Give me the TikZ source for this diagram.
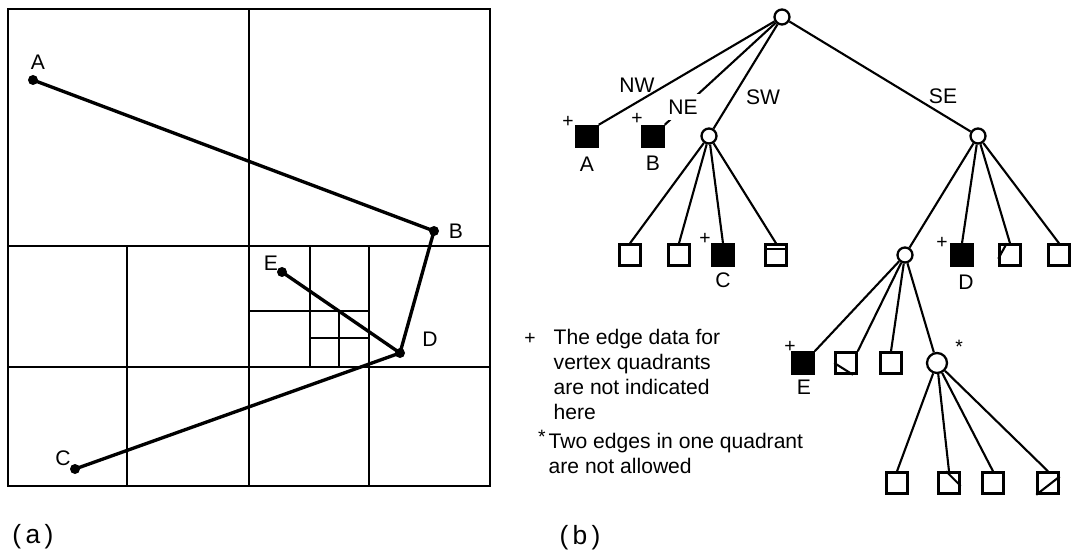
\documentclass[tikz,border=0pt]{standalone}
\usepackage{fontspec}
\setmainfont{Liberation Sans}
\usetikzlibrary{positioning}

\begin{document}
\begin{tikzpicture}[thick, font=\fontsize{12}{14.2}\selectfont]
	\useasboundingbox (0,0) rectangle (21.42,11.08);

	\tikzstyle{grid}=[line width=1.2pt]
	\tikzstyle{seg}=[line width=1.9pt]
	\tikzstyle{edge}=[line width=1.2pt]
	\tikzstyle{pt}=[circle, fill=black, inner sep=0pt, minimum size=0.2cm]
	\tikzstyle{inode}=[circle, draw, fill=white, line width=1.3pt, inner sep=0pt, minimum size=0.3cm]
	\tikzstyle{leaf}=[rectangle, draw, fill=white, line width=1.4pt, inner sep=0pt, minimum size=0.42cm]
	\tikzstyle{vleaf}=[leaf, fill=black]
	\tikzstyle{flag}=[font=\fontsize{11}{12}\selectfont, inner sep=0pt]

	% (a) the subdivided square
	\draw[grid] (0.16,1.36) rectangle (9.8,10.9);
	\draw[grid] (4.98,1.36) -- (4.98,10.9);
	\draw[grid] (0.16,6.16) -- (9.8,6.16);
	\draw[grid] (0.16,3.74) -- (9.8,3.74);
	\draw[grid] (2.54,1.36) -- (2.54,6.16);
	\draw[grid] (7.38,1.36) -- (7.38,6.16);
	\draw[grid] (6.2,3.74) -- (6.2,6.16);
	\draw[grid] (4.98,4.86) -- (7.38,4.86);
	\draw[grid] (6.78,3.74) -- (6.78,4.86);
	\draw[grid] (6.2,4.32) -- (7.38,4.32);

	% vertices and edges
	\node[pt] (pA) at (0.66,9.48) {};
	\node[pt] (pB) at (8.68,6.46) {};
	\node[pt] (pE) at (5.64,5.64) {};
	\node[pt] (pD) at (8.0,4.02) {};
	\node[pt] (pC) at (1.5,1.70) {};
	\draw[seg] (pA.center) -- (pB.center) -- (pD.center) -- (pC.center);
	\draw[seg] (pE.center) -- (pD.center);
	\node (lA) at (0.76,9.84) {A};
	\node (lB) at (9.12,6.46) {B};
	\node (lE) at (5.42,5.82) {E};
	\node (lD) at (8.6,4.3) {D};
	\node (lC) at (1.26,1.92) {C};

	\node[font=\fontsize{15}{17}\selectfont] (capa) at (0.66,0.35) {(\,a\,)};

	% (b) the tree
	\node[inode] (root) at (15.64,10.74) {};
	\node[vleaf] (nA) at (11.74,8.35) {};
	\node[vleaf] (nB) at (13.06,8.35) {};
	\node[inode] (sw) at (14.18,8.36) {};
	\node[inode] (se) at (19.56,8.36) {};

	\node[leaf] (sw1) at (12.6,5.98) {};
	\node[leaf] (sw2) at (13.58,5.98) {};
	\node[vleaf] (sw3) at (14.46,5.98) {};
	\node[leaf] (sw4) at (15.52,5.98) {};

	\node[inode] (se1) at (18.1,5.98) {};
	\node[vleaf] (se2) at (19.24,5.98) {};
	\node[leaf] (se3) at (20.2,5.98) {};
	\node[leaf] (se4) at (21.18,5.98) {};

	\node[vleaf] (t1) at (16.06,3.82) {};
	\node[leaf] (t2) at (16.92,3.82) {};
	\node[leaf] (t3) at (17.82,3.82) {};
	\node[inode, minimum size=0.4cm] (t4) at (18.74,3.82) {};

	\node[leaf] (u1) at (17.94,1.42) {};
	\node[leaf] (u2) at (18.98,1.42) {};
	\node[leaf] (u3) at (19.86,1.42) {};
	\node[leaf] (u4) at (20.96,1.42) {};

	% links
	\draw[edge] (root) -- (nA.north east);
	\draw[edge] (root) -- (nB.north east);
	\draw[edge] (root) -- (sw);
	\draw[edge] (root) -- (se);
	\foreach \c in {sw1,sw2,sw3,sw4}
		\draw[edge] (sw) -- (\c.north);
	\draw[edge] (se) -- (se1);
	\foreach \c in {se2,se3,se4}
		\draw[edge] (se) -- (\c.north);
	\draw[edge] (se1) -- (t1.north east);
	\draw[edge] (se1) -- (t2.north east);
	\draw[edge] (se1) -- (t3.north);
	\draw[edge] (se1) -- (t4);
	\foreach \c in {u1,u2,u3,u4}
		\draw[edge] (t4) -- (\c.north);

	% edge pieces inside the quadrants
	\draw[edge] ([yshift=-0.11cm]sw4.north west) -- ([yshift=-0.11cm]sw4.north east);
	\draw[edge] ([yshift=0.16cm]se3.south west) -- ([xshift=0.17cm]se3.north west);
	\draw[edge] (t2.west) -- ([xshift=0.14cm]t2.south);
	\draw[edge] ([xshift=-0.06cm]u2.north) -- ([yshift=-0.06cm]u2.east);
	\draw[edge] (u4.south west) -- ([yshift=0.13cm]u4.east);

	% quadrant names
	\node (lnw) at (12.74,9.38) {NW};
	\node[fill=white, inner sep=3.5pt] (lne) at (13.66,8.94) {NE};
	\node (lsw) at (15.26,9.14) {SW};
	\node (lse) at (18.86,9.16) {SE};

	% leaf names and marks
	\node (bA) at (11.74,7.8) {A};
	\node (bB) at (13.06,7.82) {B};
	\node (bC) at (14.46,5.48) {C};
	\node (bD) at (19.32,5.44) {D};
	\node (bE) at (16.08,3.34) {E};
	\node[flag] (mA) at (11.36,8.64) {+};
	\node[flag] (mB) at (12.74,8.7) {+};
	\node[flag] (mC) at (14.1,6.3) {+};
	\node[flag] (mD) at (18.84,6.22) {+};
	\node[flag] (mE) at (15.8,4.14) {+};
	\node[flag] (mS) at (19.18,4.14) {*};

	% notes
	\node[flag] (m1) at (10.6,4.3) {+};
	\node[anchor=north west, align=left, inner sep=0pt] (note1) at (11.06,4.51)
		{The edge data for\\vertex quadrants\\are not indicated\\here};
	\node[flag] (m2) at (10.84,2.34) {*};
	\node[anchor=north west, align=left, inner sep=0pt] (note2) at (10.96,2.43)
		{Two edges in one quadrant\\are not allowed};

	\node[font=\fontsize{15}{17}\selectfont] (capb) at (11.6,0.33) {(\,b\,)};

\end{tikzpicture}
\end{document}
